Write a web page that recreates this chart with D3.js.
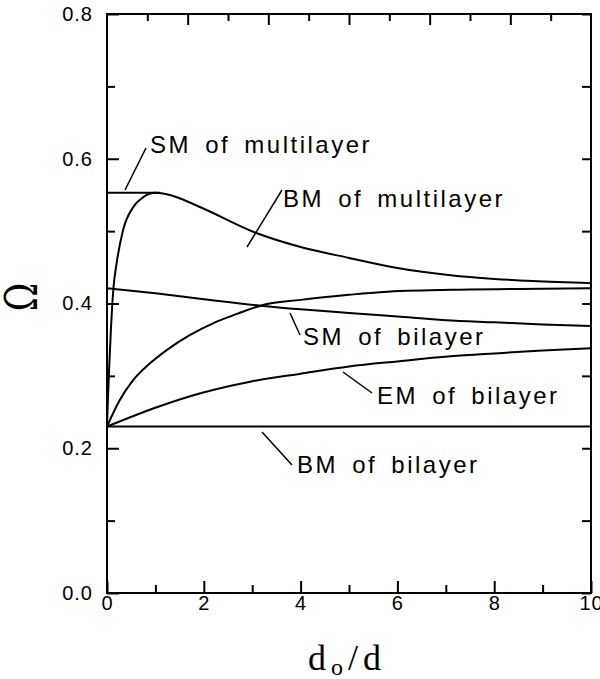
<!DOCTYPE html>
<html>
<head>
<meta charset="utf-8">
<script src="https://cdn.jsdelivr.net/npm/d3@7/dist/d3.min.js"></script>
<style>
  html, body { margin: 0; padding: 0; background: #fff; }
  svg { display: block; }
  .tick text { font-family: "Liberation Sans", Arial, sans-serif; font-size: 20px; letter-spacing: 1px; fill: #000; }
  .lbl { font-family: "Liberation Sans", Arial, sans-serif; font-size: 24px; letter-spacing: 2.5px; word-spacing: 5px; fill: #000; }
</style>
</head>
<body>
<svg id="chart" width="600" height="679"></svg>
<script>
// Frequency curves Ω versus d0/d for bilayer and multilayer structures
const bmMultiX = [0, 0.02, 0.04, 0.08, 0.13, 0.2, 0.33, 0.54, 0.75, 1.0, 1.3, 1.93, 3.1, 4, 5, 6, 7.1, 8, 8.8, 10];
const bmMultiY = [0.23, 0.27, 0.304, 0.363, 0.419, 0.456, 0.501, 0.533, 0.547, 0.553, 0.550, 0.533, 0.497, 0.478, 0.463, 0.449, 0.439, 0.434, 0.431, 0.428];

const smMultiX = [0, 1.1];
const smMultiY = [0.553, 0.553];

const riseX = [0, 0.25, 0.54, 0.9, 1.24, 1.7, 2.2, 2.7, 3.17, 4.0, 5.0, 5.7, 7.1, 8.5, 10];
const riseY = [0.23, 0.265, 0.294, 0.318, 0.336, 0.356, 0.373, 0.386, 0.397, 0.405, 0.412, 0.416, 0.419, 0.420, 0.421];

const smBiX = [0, 1, 2, 3.17, 4, 5, 6, 7, 8, 9, 10];
const smBiY = [0.421, 0.414, 0.406, 0.397, 0.392, 0.387, 0.382, 0.377, 0.374, 0.371, 0.369];

const emBiX = [0, 1, 1.93, 2.96, 4, 5, 6, 7.1, 8, 9, 10];
const emBiY = [0.23, 0.256, 0.276, 0.292, 0.303, 0.313, 0.320, 0.327, 0.331, 0.335, 0.338];

const bmBiX = [0, 10];
const bmBiY = [0.23, 0.23];

const xMajor = [0, 2, 4, 6, 8, 10];
const xMinor = [1, 3, 5, 7, 9];
const yMajor = [0.0, 0.2, 0.4, 0.6, 0.8];
const yMinor = [0.1, 0.3, 0.5, 0.7];
const topDivisions = 12;

const svg = d3.select("#chart");
const plotLeft = 107, plotRight = 591, plotTop = 14, plotBottom = 593;

const x = d3.scaleLinear().domain([0, 10]).range([plotLeft, plotRight]);
const y = d3.scaleLinear().domain([0, 0.8]).range([plotBottom, plotTop]);

// axes with inward ticks
function styleAxis(g) {
  g.select(".domain").remove();
  g.selectAll(".tick line").attr("stroke", "#000").attr("stroke-width", 2);
}

svg.append("g").attr("transform", `translate(0,${plotBottom})`)
  .call(d3.axisBottom(x).tickValues(xMajor).tickSize(-12).tickPadding(3).tickFormat(d3.format("d")))
  .call(styleAxis);
svg.append("g").attr("transform", `translate(0,${plotBottom})`)
  .call(d3.axisBottom(x).tickValues(xMinor).tickSize(-8).tickFormat(""))
  .call(styleAxis);

svg.append("g").attr("transform", `translate(${plotLeft},0)`)
  .call(d3.axisLeft(y).tickValues(yMajor).tickSize(-12).tickPadding(14).tickFormat(d3.format(".1f")))
  .call(styleAxis);
svg.append("g").attr("transform", `translate(${plotLeft},0)`)
  .call(d3.axisLeft(y).tickValues(yMinor).tickSize(-8).tickFormat(""))
  .call(styleAxis);

svg.append("g").attr("transform", `translate(${plotRight},0)`)
  .call(d3.axisRight(y).tickValues(yMajor.concat(yMinor)).tickSize(-9).tickFormat(""))
  .call(styleAxis);

const topLong = d3.range(2, topDivisions, 2).map(k => k * 10 / topDivisions);
const topShort = d3.range(1, topDivisions, 2).map(k => k * 10 / topDivisions);
svg.append("g").attr("transform", `translate(0,${plotTop})`)
  .call(d3.axisTop(x).tickValues(topLong).tickSize(-11).tickFormat(""))
  .call(styleAxis);
svg.append("g").attr("transform", `translate(0,${plotTop})`)
  .call(d3.axisTop(x).tickValues(topShort).tickSize(-7).tickFormat(""))
  .call(styleAxis);

// frame
svg.append("rect")
  .attr("x", x(0)).attr("y", y(0.8))
  .attr("width", x(10) - x(0)).attr("height", y(0) - y(0.8))
  .attr("fill", "none").attr("stroke", "#000").attr("stroke-width", 2);

// curves
const line = d3.line().x(d => x(d[0])).y(d => y(d[1])).curve(d3.curveMonotoneX);
const series = [
  [bmMultiX, bmMultiY], [smMultiX, smMultiY], [riseX, riseY],
  [smBiX, smBiY], [emBiX, emBiY], [bmBiX, bmBiY]
];
series.forEach(([xs, ys]) => {
  svg.append("path")
    .datum(xs.map((v, i) => [v, ys[i]]))
    .attr("d", line)
    .attr("fill", "none").attr("stroke", "#000").attr("stroke-width", 2);
});

// curve labels with leader lines
const labels = [
  { text: "SM of multilayer", tx: 150, ty: 153, l: [146, 148, 125, 190] },
  { text: "BM of multilayer", tx: 283, ty: 207, l: [282, 190, 247, 247] },
  { text: "SM of bilayer", tx: 303, ty: 345, l: [290, 313, 300, 335] },
  { text: "EM of bilayer", tx: 377, ty: 404, l: [343, 372, 372, 393] },
  { text: "BM of bilayer", tx: 297, ty: 473, l: [262, 432, 292, 465] }
];
labels.forEach(d => {
  svg.append("line")
    .attr("x1", d.l[0]).attr("y1", d.l[1]).attr("x2", d.l[2]).attr("y2", d.l[3])
    .attr("stroke", "#000").attr("stroke-width", 1.5);
  svg.append("text").attr("class", "lbl").attr("x", d.tx).attr("y", d.ty).text(d.text);
});

// axis titles
svg.append("text")
  .attr("transform", "translate(37,297) rotate(-90) scale(0.78,1)")
  .attr("text-anchor", "middle")
  .style("font-family", "'DejaVu Serif', 'Liberation Serif', serif")
  .style("font-size", "44px")
  .text("Ω");

const xt = svg.append("text")
  .attr("x", 347).attr("y", 670)
  .attr("text-anchor", "middle")
  .style("font-family", "'Liberation Serif', 'DejaVu Serif', serif")
  .style("font-size", "36px")
  .style("letter-spacing", "5px");
xt.append("tspan").text("d");
xt.append("tspan").attr("dy", 5).style("font-size", "24px").text("o");
xt.append("tspan").attr("dy", -5).text("/d");
</script>
</body>
</html>
